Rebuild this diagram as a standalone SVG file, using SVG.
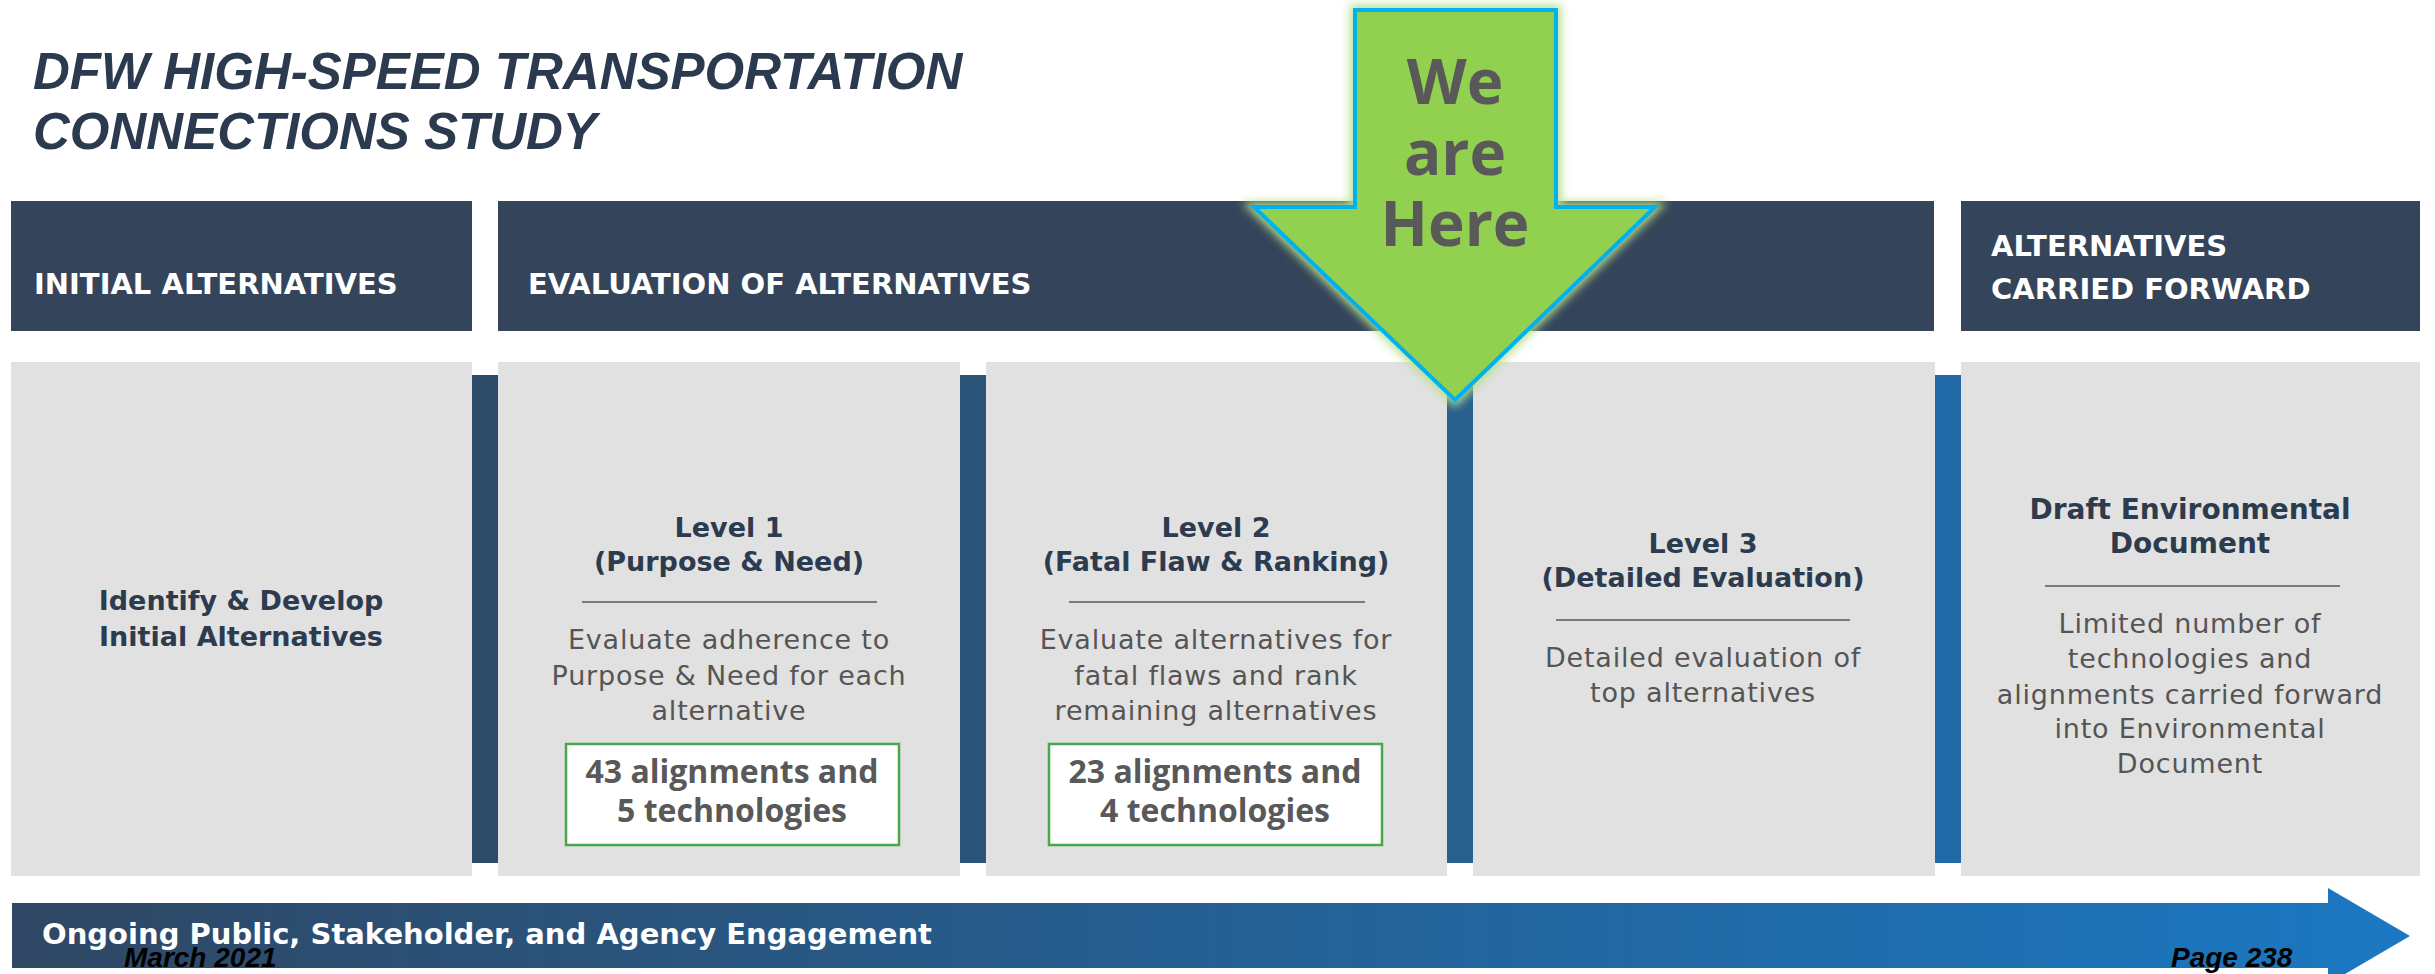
<svg xmlns="http://www.w3.org/2000/svg" width="2435" height="974" viewBox="0 0 2435 974">
<defs>
<style>
.title{font-family:"Liberation Sans",Arial,sans-serif;font-weight:bold;font-style:italic;font-size:51px;fill:#2b3a4e}
.hdr{fill:#34445a}
.hdrtxt{font-family:"DejaVu Sans",sans-serif;font-weight:bold;font-size:29px;fill:#ffffff}
.box{fill:#e1e1e1}
.head{font-family:"DejaVu Sans",sans-serif;font-weight:bold;font-size:27px;fill:#2d3b4f;text-anchor:middle}
.body{font-family:"DejaVu Sans",sans-serif;font-size:27px;fill:#555555;text-anchor:middle;letter-spacing:0.8px}
.sep{stroke:#7a7a7a;stroke-width:2}
.gbox{fill:#ffffff;stroke:#4aa84a;stroke-width:2.5}
.gtxt{font-family:"Open Sans","Noto Sans",sans-serif;font-weight:bold;font-size:32px;fill:#595959;text-anchor:middle}
.here{font-family:"Open Sans","Noto Sans",sans-serif;font-weight:bold;font-size:62px;fill:#595959;text-anchor:middle}
.foot{font-family:"Liberation Sans",Arial,sans-serif;font-weight:bold;font-style:italic;font-size:28px;fill:#000000}
.eng{font-family:"DejaVu Sans",sans-serif;font-weight:bold;font-size:28px;fill:#ffffff}
</style>
<linearGradient id="engGrad" gradientUnits="userSpaceOnUse" x1="12" y1="0" x2="2410" y2="0">
<stop offset="0" stop-color="#2f4764"/>
<stop offset="1" stop-color="#1b78c2"/>
</linearGradient>
<filter id="glow" x="-20%" y="-20%" width="140%" height="140%">
<feGaussianBlur stdDeviation="5"/>
</filter>
</defs>
<rect width="2435" height="974" fill="#ffffff"/>

<g id="title">
<text class="title" x="33" y="89">DFW HIGH-SPEED TRANSPORTATION</text>
<text class="title" x="33" y="149">CONNECTIONS STUDY</text>
</g>

<g id="header-initial">
<rect class="hdr" x="11" y="201" width="461" height="130"/>
<text class="hdrtxt" x="34" y="294">INITIAL ALTERNATIVES</text>
</g>
<g id="header-evaluation">
<rect class="hdr" x="498" y="201" width="1436" height="130"/>
<text class="hdrtxt" x="528" y="294">EVALUATION OF ALTERNATIVES</text>
</g>
<g id="header-forward">
<rect class="hdr" x="1961" y="201" width="459" height="130"/>
<text class="hdrtxt" x="1991" y="256">ALTERNATIVES</text>
<text class="hdrtxt" x="1991" y="299">CARRIED FORWARD</text>
</g>

<g id="separators">
<rect x="472" y="375" width="26" height="488" fill="#2d4a68"/>
<rect x="960" y="375" width="26" height="488" fill="#2c5479"/>
<rect x="1447" y="375" width="26" height="488" fill="#295f8d"/>
<rect x="1935" y="375" width="26" height="488" fill="#2269a8"/>
</g>

<g id="node-initial">
<rect class="box" x="11" y="362" width="461" height="514"/>
<text class="head" x="241" y="610">Identify &amp; Develop</text>
<text class="head" x="241" y="646">Initial Alternatives</text>
</g>

<g id="node-level1">
<rect class="box" x="498" y="362" width="462" height="514"/>
<text class="head" x="729" y="537">Level 1</text>
<text class="head" x="729" y="571">(Purpose &amp; Need)</text>
<line class="sep" x1="582" y1="602" x2="877" y2="602"/>
<text class="body" x="729" y="649">Evaluate adherence to</text>
<text class="body" x="729" y="685">Purpose &amp; Need for each</text>
<text class="body" x="729" y="720">alternative</text>
<rect class="gbox" x="566" y="744" width="333" height="101"/>
<text class="gtxt" x="732" y="783">43 alignments and</text>
<text class="gtxt" x="732" y="822">5 technologies</text>
</g>

<g id="node-level2">
<rect class="box" x="986" y="362" width="461" height="514"/>
<text class="head" x="1216" y="537">Level 2</text>
<text class="head" x="1216" y="571">(Fatal Flaw &amp; Ranking)</text>
<line class="sep" x1="1069" y1="602" x2="1365" y2="602"/>
<text class="body" x="1216" y="649">Evaluate alternatives for</text>
<text class="body" x="1216" y="685">fatal flaws and rank</text>
<text class="body" x="1216" y="720">remaining alternatives</text>
<rect class="gbox" x="1049" y="744" width="333" height="101"/>
<text class="gtxt" x="1215" y="783">23 alignments and</text>
<text class="gtxt" x="1215" y="822">4 technologies</text>
</g>

<g id="node-level3">
<rect class="box" x="1473" y="362" width="462" height="514"/>
<text class="head" x="1703" y="553">Level 3</text>
<text class="head" x="1703" y="587">(Detailed Evaluation)</text>
<line class="sep" x1="1556" y1="620" x2="1850" y2="620"/>
<text class="body" x="1703" y="667">Detailed evaluation of</text>
<text class="body" x="1703" y="702">top alternatives</text>
</g>

<g id="node-draft">
<rect class="box" x="1961" y="362" width="459" height="514"/>
<text class="head" x="2190" y="519" style="font-size:28px">Draft Environmental</text>
<text class="head" x="2190" y="553" style="font-size:28px">Document</text>
<line class="sep" x1="2045" y1="586" x2="2340" y2="586"/>
<text class="body" x="2190" y="633">Limited number of</text>
<text class="body" x="2190" y="668">technologies and</text>
<text class="body" x="2190" y="704">alignments carried forward</text>
<text class="body" x="2190" y="738">into Environmental</text>
<text class="body" x="2190" y="773">Document</text>
</g>

<g id="engagement">
<path d="M12,903 H2328 V888 L2410,936 L2328,984 V968 H12 Z" fill="url(#engGrad)"/>
<text class="eng" x="42" y="944" textLength="890" lengthAdjust="spacingAndGlyphs">Ongoing Public, Stakeholder, and Agency Engagement</text>
</g>

<g id="we-are-here">
<polygon points="1355,10 1556,10 1556,207 1655,207 1455,400 1254,207 1355,207" fill="#b6e08c" stroke="#b6e08c" stroke-width="10" filter="url(#glow)"/>
<polygon points="1355,10 1556,10 1556,207 1655,207 1455,400 1254,207 1355,207" fill="#92d050" stroke="#00b0f0" stroke-width="4" stroke-linejoin="miter"/>
<text class="here" x="1455" y="104">We</text>
<text class="here" x="1455" y="175">are</text>
<text class="here" x="1455" y="246">Here</text>
</g>

<g id="footer">
<text class="foot" x="124" y="967">March 2021</text>
<text class="foot" x="2171" y="967">Page 238</text>
</g>
</svg>
